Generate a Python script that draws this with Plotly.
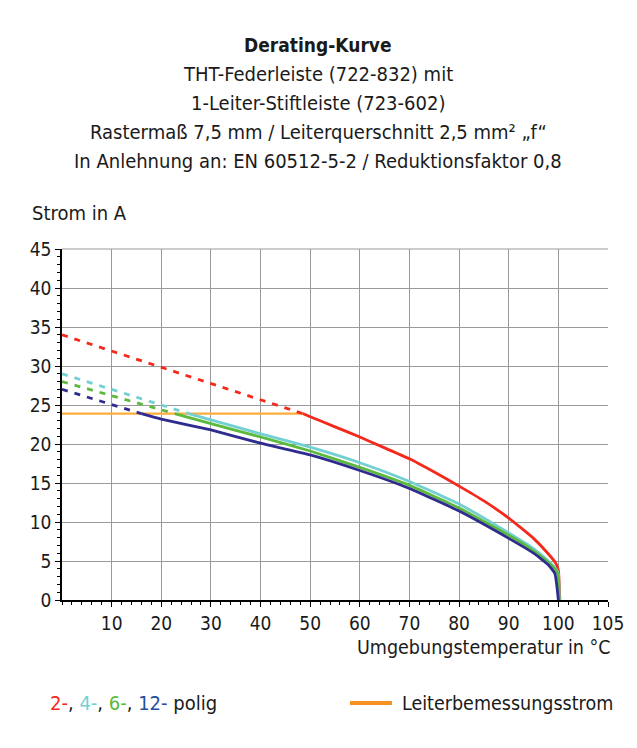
import plotly.graph_objects as go

# ---- data ----
rated_current = 23.9
rated_x = [0, 48.5]

red_dash_x = [0, 48.5]
red_dash_y = [34, 23.9]
red_x = [48.5, 50, 55, 60, 65, 70, 75, 80, 85, 90, 95, 98, 99.5, 100, 100.3]
red_y = [23.9, 23.5, 22.2, 20.9, 19.5, 18.1, 16.4, 14.6, 12.7, 10.5, 7.9, 5.9, 4.7, 3.8, 0]

cyan_dash_x = [0, 25.5]
cyan_dash_y = [29, 23.9]
cyan_x = [25.5, 30, 40, 50, 60, 70, 80, 90, 95, 98, 99.5, 100, 100.2]
cyan_y = [23.9, 23.1, 21.3, 19.6, 17.6, 15.2, 12.3, 8.6, 6.6, 5.0, 4.0, 3.3, 0]

green_dash_x = [0, 22.7]
green_dash_y = [28, 23.9]
green_x = [22.7, 30, 40, 50, 60, 70, 80, 90, 95, 98, 99.5, 100, 100.1]
green_y = [23.9, 22.6, 20.9, 19.1, 17.0, 14.7, 11.8, 8.3, 6.3, 4.8, 3.8, 3.1, 0]

blue_dash_x = [0, 16.0]
blue_dash_y = [27, 23.9]
blue_x = [16.0, 20, 30, 40, 50, 60, 70, 80, 90, 95, 98, 99.3, 100]
blue_y = [23.9, 23.2, 21.8, 20.1, 18.6, 16.6, 14.3, 11.4, 7.9, 6.0, 4.5, 3.4, 0]

# the reference's last x label "105" sits at the right edge of the frame (110 on the linear scale)
x_tickvals = [10, 20, 30, 40, 50, 60, 70, 80, 90, 100, 110]
x_ticktext = ["10", "20", "30", "40", "50", "60", "70", "80", "90", "100", "105"]
y_ticks = [0, 5, 10, 15, 20, 25, 30, 35, 40, 45]

title_lines = [
    "<b>Derating-Kurve</b>",
    "THT-Federleiste (722-832) mit",
    "1-Leiter-Stiftleiste (723-602)",
    "Rastermaß 7,5 mm / Leiterquerschnitt 2,5 mm² „f“",
    "In Anlehnung an: EN 60512-5-2 / Reduktionsfaktor 0,8",
]

# ---- styles ----
RED = "#f5291b"
CYAN = "#72d0d3"
GREEN = "#5bb93c"
BLUE = "#2f2b8f"
ORANGE = "#fcae3c"
LEG_ORANGE = "#f7901e"
FONT = "DejaVu Sans Condensed, Roboto Condensed, Liberation Sans Narrow, Roboto, sans-serif"
TXT = "#1a1a1a"
DASH = "6px,7px"
GRID = "#9a9a9a"

fig = go.Figure()
fig.add_trace(go.Scatter(x=rated_x, y=[rated_current, rated_current], mode="lines",
                         line=dict(color=ORANGE, width=2.2), showlegend=False))
for dx, dy, sx, sy, c in [
    (red_dash_x, red_dash_y, red_x, red_y, RED),
    (cyan_dash_x, cyan_dash_y, cyan_x, cyan_y, CYAN),
    (green_dash_x, green_dash_y, green_x, green_y, GREEN),
    (blue_dash_x, blue_dash_y, blue_x, blue_y, BLUE),
]:
    fig.add_trace(go.Scatter(x=dx, y=dy, mode="lines",
                             line=dict(color=c, width=2.8, dash=DASH), showlegend=False))
    fig.add_trace(go.Scatter(x=sx, y=sy, mode="lines",
                             line=dict(color=c, width=2.8, shape="spline", smoothing=0.4),
                             showlegend=False))

# pixel helpers for annotations
L, R, T, B = 62, 29, 249, 148
W, H = 637, 748
PW, PH = W - L - R, H - T - B


def px(xp):
    return (xp - L) / PW


def py(yp):
    return (H - B - yp) / PH


ann = []
for i, t in enumerate(title_lines):
    ann.append(dict(text=t, x=px(318), y=py(45 + 29 * i), xref="paper", yref="paper",
                    xanchor="center", yanchor="middle", showarrow=False,
                    font=dict(family=FONT, size=19 if i == 0 else 20, color=TXT)))
ann.append(dict(text="Strom in A", x=px(30), y=py(213), xref="paper", yref="paper",
                xanchor="left", yanchor="middle", showarrow=False,
                font=dict(family=FONT, size=20, color=TXT)))
ann.append(dict(text="Umgebungstemperatur in °C", x=px(613), y=py(647), xref="paper", yref="paper",
                xanchor="right", yanchor="middle", showarrow=False,
                font=dict(family=FONT, size=19.5, color=TXT)))
ann.append(dict(text=(f"<span style='color:{RED}'>2-</span>, <span style='color:{CYAN}'>4-</span>, "
                      f"<span style='color:{GREEN}'>6-</span>, <span style='color:#1f4fa0'>12-</span> polig"),
                x=px(48), y=py(703), xref="paper", yref="paper",
                xanchor="left", yanchor="middle", showarrow=False,
                font=dict(family=FONT, size=20, color=TXT)))
ann.append(dict(text="Leiterbemessungsstrom", x=px(400), y=py(703), xref="paper", yref="paper",
                xanchor="left", yanchor="middle", showarrow=False,
                font=dict(family=FONT, size=19.5, color=TXT)))

fig.update_layout(
    width=W, height=H,
    margin=dict(l=L, r=R, t=T, b=B, pad=0),
    paper_bgcolor="white", plot_bgcolor="white",
    annotations=ann,
    shapes=[
        dict(type="line", xref="paper", yref="paper", x0=px(350), x1=px(392),
             y0=py(703), y1=py(703), line=dict(color=LEG_ORANGE, width=4)),
        dict(type="line", xref="paper", yref="paper", x0=0, x1=1, y0=1, y1=1,
             line=dict(color=GRID, width=1.2), layer="below"),
    ],
    showlegend=False,
)
fig.update_xaxes(range=[0, 110], tickvals=x_tickvals, ticktext=x_ticktext,
                 showgrid=True, gridcolor=GRID, gridwidth=1.2,
                 showline=True, linecolor="black", linewidth=1.5, mirror=False,
                 ticks="outside", ticklen=5, tickcolor="black", tickwidth=1, tickangle=0,
                 minor=dict(dtick=2, tick0=0, ticks="outside", ticklen=3, tickcolor="black", showgrid=False),
                 tickfont=dict(family=FONT, size=19, color=TXT), zeroline=False, fixedrange=True)
fig.update_yaxes(range=[0, 45], tickvals=y_ticks, showgrid=True, gridcolor=GRID, gridwidth=1.2,
                 showline=True, linecolor="black", linewidth=1.5,
                 ticks="outside", ticklen=5, tickcolor="black", tickwidth=1,
                 minor=dict(dtick=1, tick0=0, ticks="outside", ticklen=3, tickcolor="black", showgrid=False),
                 tickfont=dict(family=FONT, size=19, color=TXT), zeroline=False, fixedrange=True)

fig.write_html("out.html")
